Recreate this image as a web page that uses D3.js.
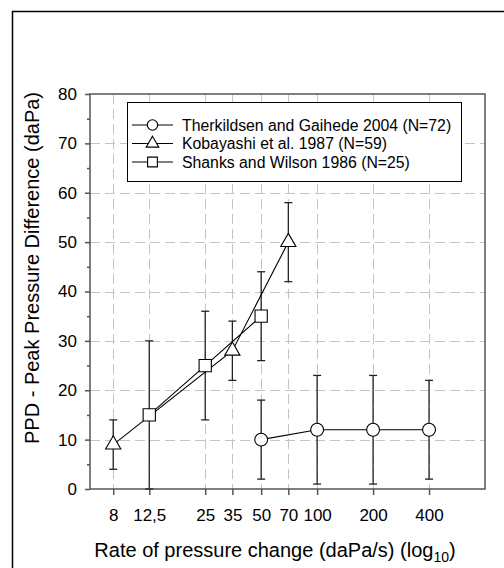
<!DOCTYPE html>
<html><head><meta charset="utf-8">
<script src="https://cdn.jsdelivr.net/npm/d3@7"></script>
<style>body{margin:0;background:#fff}svg{display:block}text{font-family:"Liberation Sans",Arial,sans-serif}</style>
</head><body>
<svg id="c" width="504" height="568"></svg>
<script>
const xTicks = [8, 12.5, 25, 35, 50, 70, 100, 200, 400];
const xTickLabels = ["8", "12,5", "25", "35", "50", "70", "100", "200", "400"];
const yTicks = [0, 10, 20, 30, 40, 50, 60, 70, 80];
const yMinorTicks = [5, 15, 25, 35, 45, 55, 65, 75];

const therkX = [50, 100, 200, 400];
const therkY = [10, 12, 12, 12];
const therkLo = [2, 1, 1, 2];
const therkHi = [18, 23, 23, 22];

const kobaX = [8, 35, 70];
const kobaY = [9, 28, 50];
const kobaLo = [4, 22, 42];
const kobaHi = [14, 34, 58];

const shanksX = [12.5, 25, 50];
const shanksY = [15, 25, 35];
const shanksLo = [0, 14, 26];
const shanksHi = [30, 36, 44];

const seriesNames = ["Therkildsen and Gaihede 2004 (N=72)", "Kobayashi et al. 1987 (N=59)", "Shanks and Wilson 1986 (N=25)"];

const svg = d3.select("#c");
const L = 90, R = 485, T = 94, B = 489;
const x = d3.scaleLog().domain([6, 800]).range([L, R]);
const y = d3.scaleLinear().domain([0, 80]).range([B, T]);

// outer frame (top & left visible)
svg.append("line").attr("x1", 12).attr("x2", 504).attr("y1", 11.5).attr("y2", 11.5).attr("stroke", "#000").attr("stroke-width", 1.5);
svg.append("line").attr("x1", 12.5).attr("x2", 12.5).attr("y1", 11).attr("y2", 568).attr("stroke", "#000").attr("stroke-width", 1.5);

// grid
const grid = svg.append("g").attr("stroke", "#c4c4c4").attr("stroke-width", 1).attr("stroke-dasharray", "10,5");
grid.selectAll("line.v").data(xTicks).join("line").attr("class","v")
  .attr("x1", d => Math.round(x(d)) + 0.5).attr("x2", d => Math.round(x(d)) + 0.5).attr("y1", T).attr("y2", B);
grid.selectAll("line.h").data(yTicks.filter(d => d > 0 && d < 80)).join("line").attr("class","h")
  .attr("y1", d => Math.round(y(d)) + 0.5).attr("y2", d => Math.round(y(d)) + 0.5).attr("x1", L).attr("x2", R);

// axes
const axCol = "#555";
const xAxis = d3.axisBottom(x).tickValues(xTicks).tickFormat((d, i) => xTickLabels[i]).tickSize(6).tickPadding(14);
const gx = svg.append("g").attr("transform", `translate(0,${B})`).call(xAxis);
gx.select(".domain").remove();
gx.selectAll("line").attr("stroke", axCol).attr("stroke-width", 1.5);
gx.selectAll("text").attr("font-size", 17).attr("fill", "#000").attr("font-family", "Liberation Sans, Arial, sans-serif");

const yAxis = d3.axisLeft(y).tickValues(yTicks).tickSize(5).tickPadding(8);
const gy = svg.append("g").attr("transform", `translate(${L},0)`).call(yAxis);
gy.select(".domain").remove();
gy.selectAll("line").attr("stroke", axCol).attr("stroke-width", 1.5);
gy.selectAll("text").attr("font-size", 17).attr("fill", "#000").attr("font-family", "Liberation Sans, Arial, sans-serif");
const yMinor = d3.axisLeft(y).tickValues(yMinorTicks).tickSize(3).tickFormat("");
const gym = svg.append("g").attr("transform", `translate(${L},0)`).call(yMinor);
gym.select(".domain").remove();
gym.selectAll("line").attr("stroke", axCol).attr("stroke-width", 1.5);

// plot box
svg.append("rect").attr("x", L).attr("y", T).attr("width", R - L).attr("height", B - T)
  .attr("fill", "none").attr("stroke", axCol).attr("stroke-width", 1.5);

function errorBars(xs, los, his) {
  const g = svg.append("g").attr("stroke", "#222").attr("stroke-width", 1.3);
  xs.forEach((xv, i) => {
    const cx = x(xv);
    g.append("line").attr("x1", cx).attr("x2", cx).attr("y1", y(los[i])).attr("y2", y(his[i]));
    g.append("line").attr("x1", cx - 4).attr("x2", cx + 4).attr("y1", y(los[i])).attr("y2", y(los[i]));
    g.append("line").attr("x1", cx - 4).attr("x2", cx + 4).attr("y1", y(his[i])).attr("y2", y(his[i]));
  });
}
errorBars(therkX, therkLo, therkHi);
errorBars(kobaX, kobaLo, kobaHi);
errorBars(shanksX, shanksLo, shanksHi);

const line = d3.line().x(d => x(d[0])).y(d => y(d[1]));
function drawLine(xs, ys) {
  svg.append("path").attr("d", line(xs.map((v, i) => [v, ys[i]])))
    .attr("fill", "none").attr("stroke", "#000").attr("stroke-width", 1.1);
}
drawLine(therkX, therkY);
drawLine(kobaX, kobaY);
drawLine(shanksX, shanksY);

const symCircle = d3.symbol().type(d3.symbolCircle).size(130)();
const symTri = d3.symbol().type(d3.symbolTriangle).size(100)();
const symSq = d3.symbol().type(d3.symbolSquare).size(150)();
function markers(xs, ys, path) {
  xs.forEach((xv, i) => {
    svg.append("path").attr("d", path).attr("transform", `translate(${x(xv)},${y(ys[i])})`)
      .attr("fill", "#fff").attr("stroke", "#000").attr("stroke-width", 1.1);
  });
}
markers(therkX, therkY, symCircle);
markers(kobaX, kobaY, symTri);
markers(shanksX, shanksY, symSq);

// legend
const lg = svg.append("g");
lg.append("rect").attr("x", 127.5).attr("y", 102.5).attr("width", 334).attr("height", 79)
  .attr("fill", "#fff").attr("stroke", "#000").attr("stroke-width", 1);
const legSyms = [
  d3.symbol().type(d3.symbolCircle).size(85)(),
  d3.symbol().type(d3.symbolTriangle).size(70)(),
  d3.symbol().type(d3.symbolSquare).size(95)()
];
const rowY = [125, 143.5, 162];
seriesNames.forEach((name, i) => {
  lg.append("line").attr("x1", 132).attr("x2", 173).attr("y1", rowY[i]).attr("y2", rowY[i]).attr("stroke", "#000").attr("stroke-width", 1.1);
  lg.append("path").attr("d", legSyms[i]).attr("transform", `translate(152.5,${rowY[i]})`)
    .attr("fill", "#fff").attr("stroke", "#000").attr("stroke-width", 1.1);
  lg.append("text").attr("x", 182).attr("y", rowY[i] + 5.5).attr("font-size", 15.8).text(name);
});

// axis titles
const xt = svg.append("text").attr("x", 275).attr("y", 557).attr("text-anchor", "middle").attr("font-size", 20);
xt.append("tspan").text("Rate of pressure change (daPa/s) (log");
xt.append("tspan").attr("font-size", 14).attr("dy", 5).text("10");
xt.append("tspan").attr("dy", -5).text(")");

svg.append("text").attr("transform", "translate(39,268) rotate(-90)").attr("text-anchor", "middle")
  .attr("font-size", 20).text("PPD - Peak Pressure Difference (daPa)");
</script>
</body></html>
